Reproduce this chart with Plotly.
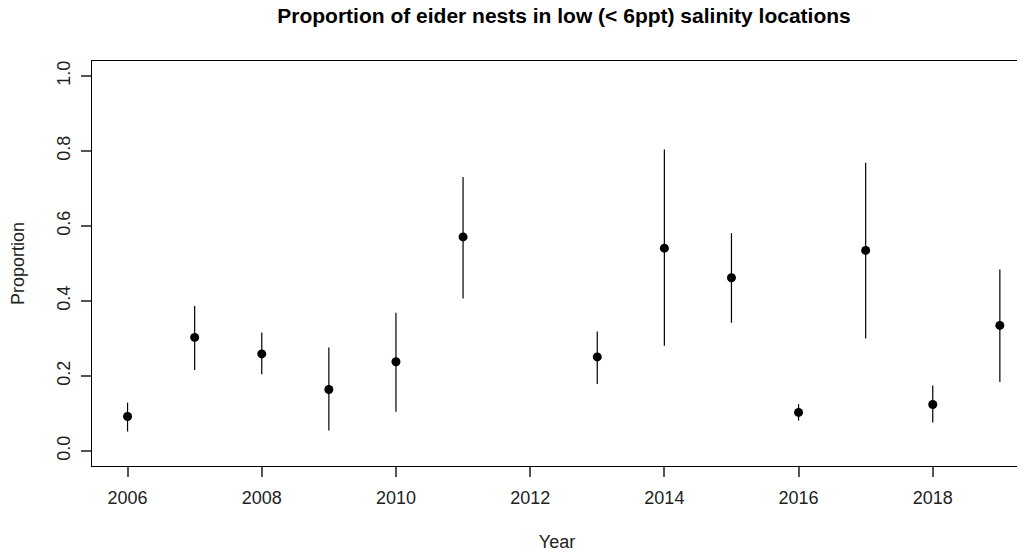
import plotly.graph_objects as go

years = [2006, 2007, 2008, 2009, 2010, 2011, 2013, 2014, 2015, 2016, 2017, 2018, 2019]
proportion = [0.092, 0.303, 0.259, 0.164, 0.238, 0.571, 0.251, 0.541, 0.462, 0.103, 0.535, 0.124, 0.335]
upper = [0.129, 0.387, 0.316, 0.276, 0.369, 0.731, 0.319, 0.804, 0.581, 0.125, 0.769, 0.175, 0.484]
lower = [0.052, 0.216, 0.205, 0.055, 0.105, 0.407, 0.179, 0.281, 0.342, 0.081, 0.300, 0.076, 0.184]

x_ticks = [2006, 2008, 2010, 2012, 2014, 2016, 2018]
y_ticks = [0.0, 0.2, 0.4, 0.6, 0.8, 1.0]
y_tick_labels = ["0.0", "0.2", "0.4", "0.6", "0.8", "1.0"]

err_plus = [u - p for u, p in zip(upper, proportion)]
err_minus = [p - l for p, l in zip(proportion, lower)]

FONT = "Liberation Sans, Arial, sans-serif"
W, H = 1017, 544

fig = go.Figure()
fig.add_trace(go.Scatter(
    x=years, y=proportion, mode="markers",
    marker=dict(color="black", size=9, symbol="circle"),
    error_y=dict(type="data", symmetric=False, array=err_plus, arrayminus=err_minus,
                 color="black", thickness=1.2, width=0),
    showlegend=False,
))

fig.update_layout(
    width=W, height=H,
    margin=dict(l=84, r=3, t=53, b=86),
    paper_bgcolor="white", plot_bgcolor="white",
    font=dict(family=FONT, size=18, color="#222222"),
    title=dict(text="<b>Proportion of eider nests in low (< 6ppt) salinity locations</b>",
               x=556 / W, xanchor="center", y=1.0, yanchor="top",
               font=dict(family=FONT, size=21, color="black")),
    xaxis=dict(range=[2005.47, 2019.33], tickvals=x_ticks, ticks="outside", ticklen=10,
               tickcolor="#555555", tickwidth=1.5, showline=True, linecolor="black", linewidth=1.3,
               mirror=True, showgrid=False, zeroline=False, automargin=False,
               ticklabelstandoff=5,
               title=dict(text="Year", standoff=30, font=dict(size=18)),
               tickfont=dict(size=18)),
    yaxis=dict(range=[-0.04, 1.04], tickvals=y_ticks, ticktext=y_tick_labels, ticks="outside",
               ticklen=10, tickcolor="#555555", tickwidth=1.5, tickangle=-90,
               showline=True, linecolor="black", linewidth=1.3, mirror=True,
               showgrid=False, zeroline=False, automargin=False,
               ticklabelstandoff=4,
               title=dict(text="Proportion", standoff=26, font=dict(size=18)),
               tickfont=dict(size=18)),
)

fig.write_html("out.html")
